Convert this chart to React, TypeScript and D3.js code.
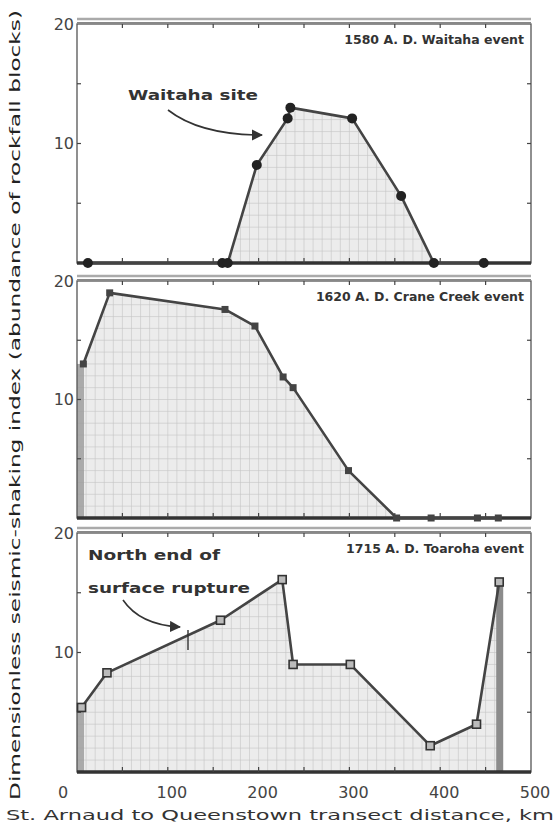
import React from "react";
import * as d3 from "d3";

// distances (km) and shaking index for each event
const waitahaKm = [12, 160, 166, 198, 232, 235, 303, 357, 393, 448];
const waitahaIdx = [0, 0, 0, 8.2, 12.1, 13.0, 12.1, 5.6, 0, 0];

const craneKm = [7, 36, 163, 196, 227, 238, 299, 352, 390, 441, 464];
const craneIdx = [13.0, 19.0, 17.6, 16.2, 11.9, 11.0, 4.0, 0, 0, 0, 0];

const toarohaKm = [5, 33, 158, 226, 238, 301, 389, 440, 465];
const toarohaIdx = [5.4, 8.3, 12.7, 16.1, 9.0, 9.0, 2.2, 4.0, 15.9];

const xTicks = [0, 100, 200, 300, 400, 500];
const yLabels = [10, 20];

const panels = [
  { id: "w", title: "1580 A. D. Waitaha event", km: waitahaKm, idx: waitahaIdx, marker: "circle", top: 24, bottom: 263 },
  { id: "c", title: "1620 A. D. Crane Creek event", km: craneKm, idx: craneIdx, marker: "square", top: 281, bottom: 518 },
  { id: "t", title: "1715 A. D. Toaroha event", km: toarohaKm, idx: toarohaIdx, marker: "open", top: 533, bottom: 772 },
];

const font = "'DejaVu Sans', sans-serif";
const x = d3.scaleLinear().domain([0, 500]).range([77, 531]);

function Panel({ p }) {
  const y = d3.scaleLinear().domain([0, 20]).range([p.bottom, p.top]);
  const pts = p.km.map((k, i) => ({ k, v: p.idx[i] }));

  // shaded area: from the last leading zero to the first trailing zero
  const firstPos = pts.findIndex((d) => d.v > 0);
  let lastPos = pts.length - 1;
  while (pts[lastPos].v === 0) lastPos--;
  const s = Math.max(0, firstPos - 1);
  const e = Math.min(pts.length - 1, lastPos + 1);
  let areaPts = pts.slice(s, e + 1);
  if (pts[0].v > 0) areaPts = [{ k: 0, v: pts[0].v }, ...areaPts];
  const area = d3.area().x((d) => x(d.k)).y0(y(0)).y1((d) => y(d.v));
  const line = d3.line().x((d) => x(d.k)).y((d) => y(d.v));

  const gridX = d3.range(0, 501, 10);
  const gridY = d3.range(0, 20.1, 1);
  const first = pts[0];
  const last = pts[pts.length - 1];

  return (
    <g>
      <defs>
        <clipPath id={"clip-" + p.id}>
          <path d={area(areaPts)} />
        </clipPath>
      </defs>
      <path d={area(areaPts)} fill="#ececec" />
      <g clipPath={`url(#clip-${p.id})`} stroke="#c4c4c4" strokeWidth={0.6}>
        {gridX.map((g) => (
          <line key={"gx" + g} x1={x(g)} x2={x(g)} y1={p.top} y2={p.bottom} />
        ))}
        {gridY.map((g) => (
          <line key={"gy" + g} x1={x(0)} x2={x(500)} y1={y(g)} y2={y(g)} />
        ))}
      </g>
      {first.v > 0 && (
        <rect x={x(0)} y={y(first.v)} width={7} height={y(0) - y(first.v)} fill="#9a9a9a" opacity={0.8} />
      )}
      {last.v > 0 && (
        <rect x={x(last.k) - 3} y={y(last.v)} width={7} height={y(0) - y(last.v)} fill="#8c8c8c" />
      )}

      {/* frame */}
      <rect x={x(0)} y={p.top} width={x(500) - x(0)} height={p.bottom - p.top} fill="none" stroke="#555" strokeWidth={1.3} />
      <line x1={x(0)} x2={x(500)} y1={p.top - 5} y2={p.top - 5} stroke="#aaa" strokeWidth={2.5} />
      <line x1={x(0)} x2={x(500)} y1={p.top - 1} y2={p.top - 1} stroke="#888" strokeWidth={2} />
      <line x1={x(0)} x2={x(500)} y1={p.bottom} y2={p.bottom} stroke="#333" strokeWidth={3.5} />

      {/* ticks */}
      <g stroke="#444" strokeWidth={1.2}>
        {d3.range(50, 500, 50).map((t) => (
          <g key={"t" + t}>
            <line x1={x(t)} x2={x(t)} y1={p.top} y2={p.top + 4} />
            <line x1={x(t)} x2={x(t)} y1={p.bottom} y2={p.bottom - 5} />
          </g>
        ))}
        {[5, 10, 15].map((t) => (
          <g key={"v" + t}>
            <line x1={x(0)} x2={x(0) + 4} y1={y(t)} y2={y(t)} />
            <line x1={x(500)} x2={x(500) - 4} y1={y(t)} y2={y(t)} />
          </g>
        ))}
      </g>

      {yLabels.map((t) => (
        <text key={"yl" + t} x={x(0) - 3} y={y(t)} dy="0.35em" textAnchor="end" fontFamily={font} fontSize={16} fill="#444">
          {t}
        </text>
      ))}

      <text x={x(500) - 7} y={p.top + 20} textAnchor="end" fontFamily={font} fontSize={12.5} fontWeight="bold" fill="#333">
        {p.title}
      </text>

      <path d={line(pts)} fill="none" stroke="#444" strokeWidth={2.6} strokeLinejoin="round" />
      {pts.map((d, i) =>
        p.marker === "circle" ? (
          <circle key={i} cx={x(d.k)} cy={y(d.v)} r={5} fill="#222" />
        ) : p.marker === "square" ? (
          <rect key={i} x={x(d.k) - 3.5} y={y(d.v) - 3.5} width={7} height={7} fill="#444" />
        ) : (
          <rect key={i} x={x(d.k) - 4} y={y(d.v) - 4} width={8} height={8} fill="#bbb" stroke="#333" strokeWidth={1.6} />
        )
      )}
    </g>
  );
}

export default function App() {
  const yBottom = panels[2].bottom;
  return (
    <svg width={557} height={829} style={{ position: "absolute", left: 0, top: 0, background: "#fff" }}>
      <defs>
        <marker id="arrow" viewBox="0 0 10 10" refX={9} refY={5} markerWidth={7} markerHeight={7} orient="auto">
          <path d="M0,0 L10,5 L0,10 z" fill="#333" />
        </marker>
      </defs>
      {panels.map((p) => (
        <Panel key={p.id} p={p} />
      ))}

      {/* annotations */}
      <text x={128} y={100} textLength={130} lengthAdjust="spacingAndGlyphs" fontFamily={font} fontSize={14} fontWeight="bold" fill="#333">
        Waitaha site
      </text>
      <path d="M168,110 Q200,135 262,135" fill="none" stroke="#333" strokeWidth={1.6} markerEnd="url(#arrow)" />

      <text x={88} y={560} textLength={132} lengthAdjust="spacingAndGlyphs" fontFamily={font} fontSize={14} fontWeight="bold" fill="#333">
        North end of
      </text>
      <text x={88} y={593} textLength={162} lengthAdjust="spacingAndGlyphs" fontFamily={font} fontSize={14} fontWeight="bold" fill="#333">
        surface rupture
      </text>
      <path d="M123,600 Q140,625 180,627" fill="none" stroke="#333" strokeWidth={1.6} markerEnd="url(#arrow)" />
      <line x1={188} x2={188} y1={630} y2={650} stroke="#333" strokeWidth={1.4} />

      {/* x axis labels */}
      {xTicks.map((t) => (
        <text key={t} x={t === 0 ? x(0) - 14 : x(t) + 4} y={yBottom + 26} textAnchor="middle" fontFamily={font} fontSize={16} fill="#444">
          {t}
        </text>
      ))}
      <text x={6} y={820} textLength={548} lengthAdjust="spacingAndGlyphs" fontFamily={font} fontSize={14} fill="#333">
        St. Arnaud to Queenstown transect distance, km
      </text>
      <text
        transform="translate(20,405) rotate(-90)"
        textAnchor="middle"
        textLength={790}
        lengthAdjust="spacingAndGlyphs"
        fontFamily={font}
        fontSize={14}
        fill="#222"
      >
        Dimensionless seismic-shaking index (abundance of rockfall blocks)
      </text>
    </svg>
  );
}
